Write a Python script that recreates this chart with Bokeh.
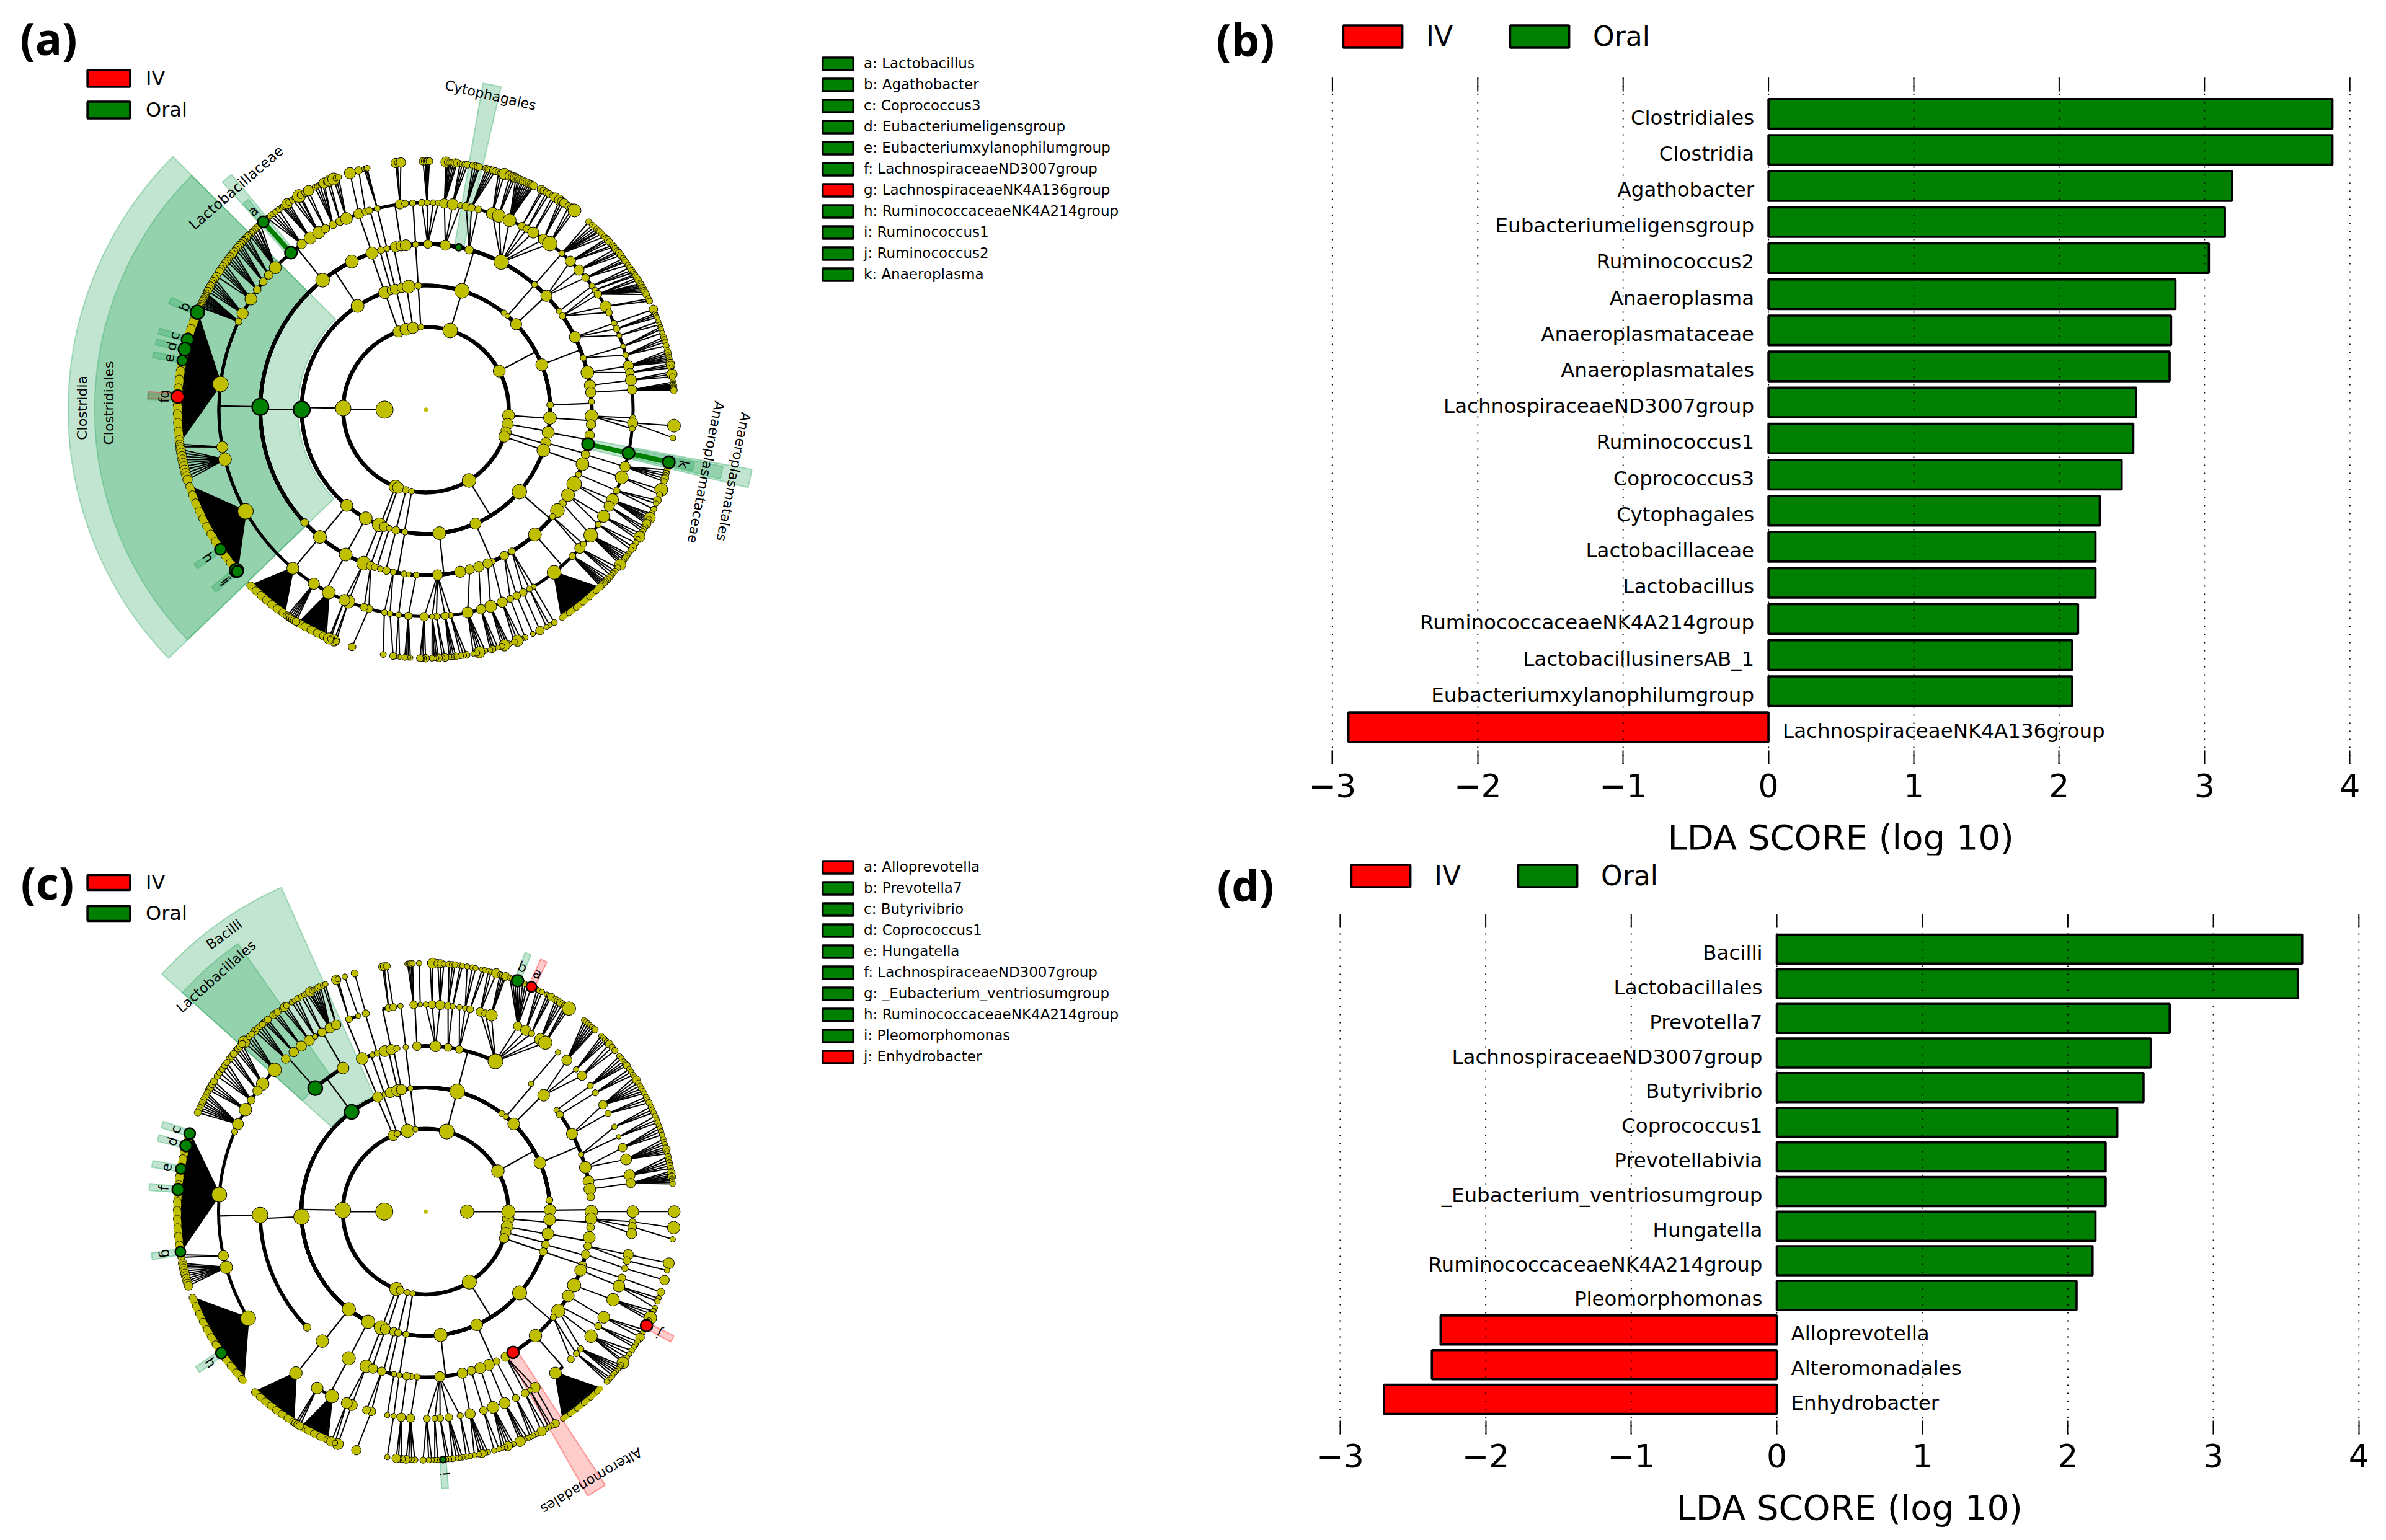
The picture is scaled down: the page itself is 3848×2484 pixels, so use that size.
import math
from bokeh.plotting import figure
from bokeh.layouts import column, row
from bokeh.embed import file_html
from bokeh.resources import INLINE
from bokeh.models import Range1d, FixedTicker, Legend, LegendItem, ColumnDataSource, Label, Title
from bokeh.core.properties import value

# ---------- bar panels ----------
B_LABELS = ["Clostridiales","Clostridia","Agathobacter","Eubacteriumeligensgroup","Ruminococcus2","Anaeroplasma",
 "Anaeroplasmataceae","Anaeroplasmatales","LachnospiraceaeND3007group","Ruminococcus1","Coprococcus3","Cytophagales",
 "Lactobacillaceae","Lactobacillus","RuminococcaceaeNK4A214group","LactobacillusinersAB_1","Eubacteriumxylanophilumgroup",
 "LachnospiraceaeNK4A136group"]
B_VALUES = [3.88,3.88,3.19,3.14,3.03,2.80,2.77,2.76,2.53,2.51,2.43,2.28,2.25,2.25,2.13,2.09,2.09,-2.89]
D_LABELS = ["Bacilli","Lactobacillales","Prevotella7","LachnospiraceaeND3007group","Butyrivibrio","Coprococcus1",
 "Prevotellabivia","_Eubacterium_ventriosumgroup","Hungatella","RuminococcaceaeNK4A214group","Pleomorphomonas",
 "Alloprevotella","Alteromonadales","Enhydrobacter"]
D_VALUES = [3.61,3.58,2.70,2.57,2.52,2.34,2.26,2.26,2.19,2.17,2.06,-2.31,-2.37,-2.70]
LDA_TICKS = [-3,-2,-1,0,1,2,3,4]
GROUPS = ["IV","Oral"]
GROUP_COLORS = {"IV":"#FF0000","Oral":"#008000"}

# ---------- side legends of the cladograms ----------
A_KEYS = [("a: Lactobacillus","Oral"),("b: Agathobacter","Oral"),("c: Coprococcus3","Oral"),("d: Eubacteriumeligensgroup","Oral"),
 ("e: Eubacteriumxylanophilumgroup","Oral"),("f: LachnospiraceaeND3007group","Oral"),("g: LachnospiraceaeNK4A136group","IV"),
 ("h: RuminococcaceaeNK4A214group","Oral"),("i: Ruminococcus1","Oral"),("j: Ruminococcus2","Oral"),("k: Anaeroplasma","Oral")]
C_KEYS = [("a: Alloprevotella","IV"),("b: Prevotella7","Oral"),("c: Butyrivibrio","Oral"),("d: Coprococcus1","Oral"),("e: Hungatella","Oral"),
 ("f: LachnospiraceaeND3007group","Oral"),("g: _Eubacterium_ventriosumgroup","Oral"),("h: RuminococcaceaeNK4A214group","Oral"),
 ("i: Pleomorphomonas","Oral"),("j: Enhydrobacter","IV")]

# ---------- cladogram (a): (parent level, parent angle, child angles, child sizes) ----------
A_FAN_1 = [157,157.5,158,158.5,159,159.5,160,160.5,161,161.5,162,162.5,163,163.5,164,164.5,165,165.5,166,166.5,167,167.5,168,168.5,169,169.5,170,170.5,171,171.5,172,172.5,173,173.5,174,174.5,175,175.5,176,176.5,177,177.5,178,178.5,179,179.5,180,180.5,181,181.5,182,182.5,183,183.5,184,184.5,185,185.5,186,186.5,187,187.5]
A_FAN_2 = [198,198.5,199,199.5,200,200.5,201,201.5,202,202.5,203,203.5,204,204.5,205,205.5,206,206.5,207,207.5,208,208.5,209,209.5,210,210.5,211,211.5,212,212.5,213,213.5,214,214.5,215,215.5,216,216.5,217,217.5,218,218.5,219,219.5,220,220.5]
A_FAN_3 = [225.1,225.5,226,226.4,226.8,227.2,227.6,228,228.4,228.8,229.2,229.6,230,230.4,230.8,231.2,231.6,232,232.4,232.8,233.2,233.6,234,234.4,234.8,235.2]
A_FAN_4 = [239.2,239.6,240,240.4,240.8,241.2,241.6,242,242.4,242.8,243.2,243.6,244,244.4,244.8,245.2,245.6,246.2]
A_FAN_5 = [-56.8,-56.3,-55.8,-55.3,-54.8,-54.3,-53.8,-53.3,-52.8,-52.3,-51.8,-51.3,-50.8,-50.3,-49.8,-49.3,-48.8,-48.3,-47.8,-47.3,-46.8,-46.3,-45.8]
A_BRANCHES = [
 (0,180,[180],40),
 (1,180,[179,109.3,106,104,99,93.6,73,27.8,-2,-4,-10,-16,-19,-58.7,-111.6,-109.6,-104,-100],[36,26,14,28,26,14,34,28,14,28,26,26,26,32,30,26,16,14]),
 (2,179,[123.4,180,230.4,241],[30,36,28,30]),
 (2,109.3,[109.4,106.2],[28,20]),(2,104,[104.2,101.2],[24,22]),(2,99,[98],30),(2,93.6,[93.6],16),
 (2,73,[73.2],34),(2,27.8,[51.1,49,43.5,21.2,2.2],[14,12,26,28,16]),
 (2,-4,[-3.8],30),(2,-10,[-10.5],28),(2,-16,[-15.4],24),(2,-19,[-19.1],30),
 (2,-58.7,[-41.3,-66.5,-83.8],[34,26,30]),
 (2,-111.6,[-112.1,-109.6],[32,22]),(2,-109.6,[-107.2],14),(2,-104,[-104],18),(2,-100,[-99.8],14),
 (3,123.4,[128.6,116.6],[32,30]),(3,180,[179,222.9],[38,18]),(3,230.4,[230.2],30),(3,241,[241],30),
 (3,109.4,[109,105.7],[28,16]),(3,106.2,[103.6],14),(3,104.2,[100.6],24),(3,101.2,[98.6,97],[24,26]),(3,93.6,[93.6],14),
 (3,73.2,[89.4,83.3,78.6,74.9,63],[20,24,16,20,34]),
 (3,49,[49],14),(3,43.5,[43.4],26),(3,21.2,[36.5,34.5,26,18.2,13,8.4,6],[14,16,26,14,30,26,24]),(3,2.2,[2.7],14),
 (3,-3.8,[-2.2,-5.1],[30,22]),(3,-10.5,[-8.9,-12],[22,26]),(3,-15.4,[-15.7,-19.2],[20,30]),(3,-19.1,[-23,-26.6,-31,-34.5],[14,34,30,18]),
 (3,-41.3,[-37.5,-40.2,-48.9],[32,14,30]),(3,-66.5,[-66.4,-61.8,-58.8],[14,20,16]),
 (3,-83.8,[-93.4,-86,-78.1,-74.7,-71.4,-68.2],[14,24,26,22,24,22]),
 (3,-112.1,[-112.1,-109.5],[32,20]),(3,-109.6,[-108,-106],[16,14]),(3,-107.2,[-103.8],18),(3,-104,[-101.4],14),(3,-99.8,[-97.6,-96],[14,12]),
 (4,128.6,[130.7,126.9,124,121.2,119.1,116.7,114.5,112.6],[28,22,28,28,20,18,20,28]),
 (4,179,[136.7,139.4,141.8,144.6,147.7,152.3,154.8,172.9,190.4,193.9,209.4],[28,20,18,18,28,26,16,36,26,30,36]),
 (4,230.2,[230],28),(4,241,[237.2,242],[26,30]),
 (4,109,[108.9,107],[24,16]),(4,105.7,[105.9],16),(4,103.6,[103.6],14),(4,98.6,[97.2,95.8],[22,16]),(4,93.6,[93.7],14),
 (4,89.4,[91.2,89.7,88,86.6],[16,14,14,14]),(4,83.3,[84.9,82.6,80.4],[22,26,14]),(4,74.9,[78.8,77.3,75.4],[20,18,16]),
 (4,63,[71.3,69.4,66.2,62.4,60.8,58.8,55.4,53.3],[28,30,30,18,18,26,24,34]),
 (4,49,[49],14),(4,43.4,[45.8,42.4,39.6],[24,24,18]),
 (4,36.5,[36.7],14),(4,34.5,[35.3,33.9,29.9,28],[14,18,26,16]),(4,26,[24.7,23,21],[14,16,12]),(4,18.2,[17.8,15.3],[12,14]),(4,13,[12.2,10.3],[24,20]),(4,8.4,[8.2],26),(4,6,[5.5],22),
 (4,-2.2,[-2.3,-3.7,-5.3],[14,24,14]),(4,-12,[-12.1],26),(4,-15.7,[-16],24),(4,-19.2,[-19.1],30),(4,-23,[-23],16),(4,-26.6,[-25.8,-27.8],[28,24]),(4,-31,[-31,-33.7],[28,14]),(4,-34.5,[-37.3],32),
 (4,-40.2,[-42,-40.5],[24,14]),(4,-48.9,[-51.8,-45],[32,16]),
 (4,-58.8,[-58.7,-60,-62],[12,14,18]),(4,-61.8,[-64,-66],[18,16]),(4,-66.4,[-68.4],24),(4,-68.2,[-71.8],28),(4,-71.4,[-74.6],22),(4,-74.7,[-78.4],26),
 (4,-86,[-83.2,-84.7,-87.1,-88.3,-90.5],[14,18,16,12,20]),(4,-93.4,[-94.9],18),(4,-97.6,[-97.6],14),(4,-101.4,[-100,-101.6],[14,14]),
 (4,-112.1,[-112,-113.2],[30,26]),(4,-109.5,[-106,-107.4],[18,18]),
 (5,130.7,[130.9],26),(5,126.9,[129.6,128.7,128,127.2,126.3],14),(5,124,[125.4,125,124.5,124,123.5],[14,14,14,24,14]),(5,121.2,[122.4,121.6,120.7,120.3],[16,18,30,16]),
 (5,119.1,[119,118.2],[18,24]),(5,116.7,[116.5,115.9,115.3,114.6,114.2],[14,14,14,20,24]),(5,114.5,[113.4,112.8],[18,26]),(5,112.6,[111.8,111.2,110.6],[28,14,14]),
 (5,136.7,[131.8,132.5,132.9,133.6,134.2,134.7,135.3],16),(5,139.4,[135.8,136.3,137,137.4],18),(5,141.8,[138,138.6,139.2,139.9],18),(5,144.6,[140.5,141.2,142,142.7,143.3],18),
 (5,147.7,[144,144.8,145.5,146.2,147.5],18),(5,152.3,[148.2,148.9,149.5,150.1,150.8,151.5],18),(5,154.8,[152,152.3,152.6,153,153.4,153.7,154,154.4,154.8,155.2,155.6],16),
 (5,172.9,A_FAN_1,20),(5,190.4,[188,188.6],20),(5,193.9,[189.2,190,190.8,191.6,192.4,193.2,194,194.8,195.6,196.4],22),(5,209.4,A_FAN_2,18),
 (5,230,A_FAN_3,18),(5,242,A_FAN_4,18),(5,237.2,[236,236.5,237,237.5,238,238.5],18),
 (5,108.9,[107.8],26),(5,107,[105.7],18),(5,103.6,[104.4,104,103.7],[12,12,14]),(5,97.2,[97,96.6,95.8],[22,14,22]),(5,89.7,[90.7,90.2,89.9,89.6,89.2],[18,18,16,16,16]),
 (5,84.9,[85.4,85,84.6,84.2,83.7,83.2,82.8],[24,16,14,14,16,20,18]),(5,82.6,[82.1,81.6,81,80.4],[14,14,14,16]),(5,78.8,[79.1,78.5,78,77.6],16),(5,77.3,[76,75.5,75,74.4,73.8],16),
 (5,71.3,[73,72.4,71.6],[16,16,26]),(5,69.4,[70.3,69.6,69],[22,20,22]),(5,66.2,[68.8,68.3,67.9,67.4,67,66.5,66,65.5,65,64.6,64.3],18),(5,62.4,[62.3,61.8],[20,16]),
 (5,60.8,[61,60.3],16),(5,58.8,[59.3,58.6],[16,22]),(5,55.4,[57.5,56.9,56.3],[24,20,20]),(5,53.3,[54.9,54,53.3],[18,22,30]),
 (5,49,[49.1,48,47.3,46.6,46,45.7,45,44.1],14),(5,45.8,[43.5,43,42.4,41.4,40.9],16),(5,42.4,[40.4,39.6,39.1,38.4],16),(5,39.6,[37.5,36.9,36.5,35.6],14),
 (5,36.7,[34.9,34.1,33.5],14),(5,35.3,[33,32.6],14),(5,33.9,[32,31.4,30.5,30.2,29.8,29.4,29,28.6,28.2,27.6],16),(5,29.9,[26.5,25.9],14),(5,24.7,[23.8],20),(5,23,[22.8,22.3,21.8],12),
 (5,21,[20.8,20],12),(5,17.8,[19.4,18.9,18],12),(5,15.3,[17,16.4,15.8,14.9],14),(5,12.2,[13.8,13.2,12.7,12.2,11.8,11.4,11],[14,16,14,14,14,14,14]),(5,10.3,[10.7,10.2,9.7],[20,20,14]),
 (5,8.2,[8.8,8.2,7.6],[14,24,14]),(5,5.5,[6.4,6,5.8,5.6,5.4,5.2,5,4.8,4.6,4.4],[14,14,14,16,14,14,14,14,16,16]),
 (5,-3.7,[-3.7,-6.5],[30,14]),(5,-12.1,[-12.2],26),(5,-16,[-14,-14.8,-15.4,-16.1,-16.8],[14,14,14,18,14]),(5,-19.1,[-18.8,-20],[30,14]),(5,-23,[-21.4,-22.2,-23.6],[18,12,14]),
 (5,-25.8,[-24.8,-25.2,-25.8,-26.2,-26.6,-27,-27.4],[14,14,26,14,14,14,20]),(5,-27.8,[-28.2,-28.8,-29.4],14),(5,-31,[-30,-30.8,-31.5],[14,26,14]),(5,-33.7,[-32.4,-33.6,-34.4],[14,18,14]),
 (5,-37.3,[-35.5,-36.1,-36.7,-37.2,-37.7,-38.1,-38.6],[14,14,14,14,14,14,26]),(5,-42,[-39.5,-40.5,-41.2,-41.9],14),(5,-45,[-42.5,-43.2,-43.8,-44.2,-44.6,-45,-45.4],16),(5,-51.8,A_FAN_5,14),
 (5,-58.7,[-58.9],14),(5,-60,[-60.2,-61],12),(5,-62,[-62.7],20),(5,-64,[-64.5],12),(5,-66,[-66.5],14),(5,-68.4,[-67.5,-68.4,-69.2],[14,26,14]),(5,-71.8,[-70.5,-71,-71.6,-72.2],[14,14,26,14]),
 (5,-74.6,[-73.2,-74,-74.5,-75],[12,12,16,12]),(5,-78.4,[-76.2,-77,-77.6,-78.2,-79],[12,12,26,14,12]),(5,-83.2,[-80.6,-81.3,-82],[16,14,14]),(5,-84.7,[-83.1,-83.6,-84.1,-84.6],[16,12,12,12]),
 (5,-87.1,[-85.6,-86.2],[18,12]),(5,-88.3,[-87.1,-87.6,-88.1,-88.6],[18,12,12,14]),(5,-90.5,[-90.1,-90.6,-91,-91.4],[18,14,14,16]),(5,-94.9,[-93.6,-94.1,-94.5,-94.9],[12,12,12,14]),
 (5,-97.6,[-96.1,-97],12),(5,-100,[-97.6],16),(5,-101.6,[-99.9],14),(5,-112,[-111.7,-111.2],[26,14]),(5,-113.2,[-113,-112.6],[26,14]),(5,-106,[-107.3],18),
]
A_WEDGES = [(3.09,8.64,135,224,"Oral"),(4.0,8.0,135,224,"Oral"),(5.05,7.37,129.6,131.8,"Oral"),(6.0,6.65,130.2,131.6,"Oral"),
 (4.0,8.0,76.9,80.1,"Oral"),(4.0,8.0,-13.6,-10.4,"Oral"),(5.0,7.3,-13.2,-10.8,"Oral"),(6.0,6.6,-12.9,-11.1,"Oral"),
 (6.0,6.72,156.2,157.6,"Oral"),(6.0,6.72,163,164.2,"Oral"),(6.0,6.72,165.3,166.5,"Oral"),(6.0,6.72,168,169.2,"Oral"),(6.0,6.72,176.3,177.7,"IV"),(6.0,6.72,176.6,178,"Oral"),
 (6.0,6.72,213.6,214.8,"Oral"),(6.0,6.72,219.6,221,"Oral")]
A_THICK = [(5,130.7,6,130.9),(4,-12,5,-12.1),(5,-12.1,6,-12.2)]
A_MARKED = [(6,130.9,"Oral",26),(6,156.9,"Oral",32),(6,163.6,"Oral",28),(6,165.9,"Oral",30),(6,168.6,"Oral",24),(6,177,"IV",30),
 (6,214.2,"Oral",26),(6,220.3,"Oral",32),(6,220.6,"Oral",26),(6,-12.2,"Oral",28),(5,-12.1,"Oral",28),(4,-12,"Oral",28),
 (5,130.7,"Oral",28),(4,78.6,"Oral",16),(4,179,"Oral",38),(3,180,"Oral",38)]
A_TEXTS = [("Clostridia",8.3,179.7,90,22),("Clostridiales",7.66,178.8,90,22),("Lactobacillaceae",7.05,130.5,41,23),("Cytophagales",7.75,78.4,-13,22),
 ("Anaeroplasmatales",7.6,-12.3,-101,22),("Anaeroplasmataceae",6.92,-12.6,-101,22),
 ("a",6.36,131,41,22),("b",6.33,156.9,67,22),("c",6.33,163.6,74,22),("d",6.33,166,76,22),("e",6.33,168.6,79,22),("f",6.33,178,88,22),("g",6.33,176.6,87,22),
 ("h",6.36,214.2,-56,22),("i",6.36,220.3,-50,22),("j",6.36,220.7,-50,22),("k",6.36,-12,-102,22)]

# ---------- cladogram (c) ----------
C_FAN_1 = [161.7,162.2,162.7,163.2,163.7,164.2,164.7,165.2,165.7,166.2,166.7,167.2,167.7,168.2,168.7,169.2,169.7,170.2,170.7,171.2,171.7,172.2,172.7,173.2,173.7,174.2,174.7,175.2,175.7,176.2,176.7,177.2,177.7,178.2,178.7,179.2,179.7,180.2,180.7,181.2,181.7,182.2,182.7,183.2,183.7,184.2,184.7,185.2,185.7,186.2,186.7,187.2,187.7,188.2,188.7,189.3]
C_FAN_2 = [200.3,200.8,201.3,201.8,202.3,202.8,203.3,203.8,204.3,204.8,205.3,205.8,206.3,206.8,207.3,207.8,208.3,208.8,209.3,209.8,210.3,210.8,211.3,211.8,212.3,212.8,213.3,213.8,214.3,214.8,215.3,215.8,216.3,216.8,217.3,217.8,218.3,218.8,219.3,219.8,220.3,220.8,221.3,221.8,222.3,222.8]
C_FAN_3 = [226.6,227,227.4,227.8,228.2,228.6,229,229.4,229.8,230.2,230.6,231,231.4,231.8,232.2,232.6,233,233.4,233.8,234.2,234.6,235,235.4,235.8,236.2,236.6,237,237.4,237.8]
C_FAN_4 = [240.1,240.5,240.9,241.3,241.7,242.1,242.5,242.9,243.3,243.7,244.1,244.5,244.9,245.3,245.7,246.1,246.7]
C_FAN_5 = [-56.4,-55.9,-55.4,-54.9,-54.4,-53.9,-53.4,-52.9,-52.4,-51.9,-51.4,-50.9,-50.4,-49.9,-49.4,-48.9,-48.4,-47.9,-47.4,-46.9,-46.4,-45.9,-45.4]
C_BRANCHES = [
 (0,180,[180],44),(0,0,[0],34),
 (1,180,[179,113.1,110,102.6,97,75.3,29.3,-5,-10.5,-14.6,-18.8,-58.2,-110.7,-108,-102.9,-99],[40,26,16,34,14,38,32,30,30,26,24,36,34,20,16,14]),(1,0,[0],34),
 (2,179,[126.6,182.4,231.8,242.4],[36,40,34,34]),
 (2,113.1,[112.7,109.3],[26,14]),(2,110,[106.6],26),(2,102.6,[103,101.2],[30,26]),(2,97,[97],14),(2,75.3,[75.3],38),
 (2,29.3,[52.2,49.8,44.9,23.1,5.3],[16,14,30,30,18]),(2,0,[0.7],30),(2,-5,[-3.7],30),(2,-10.5,[-10.3],30),(2,-14.6,[-15.4],20),(2,-18.8,[-18.8],20),
 (2,-58.2,[-40.9,-65.7,-83.1],[36,30,34]),(2,-110.7,[-110.9,-108.9],[36,26]),(2,-108,[-104.8],22),(2,-102.9,[-102.8],18),(2,-99,[-99.1],16),
 (3,126.6,[131.8,119.9],[36,30]),(3,182.4,[181.2,224.3],[40,20]),(3,231.8,[231.4],32),(3,242.4,[242.3],34),
 (3,112.7,[112.5,108.7],[30,14]),(3,109.3,[107],16),(3,106.6,[104.3],28),(3,103,[102],26),(3,101.2,[100],16),(3,97,[96.9],14),
 (3,75.3,[93,86.6,82.2,78.3,65.1],[22,28,20,20,38]),(3,49.8,[50.5],14),(3,44.9,[44.6],30),
 (3,23.1,[37.8,35.9,28,20.2,15.5,10.6,7.8,5.1],[14,18,28,14,30,28,30,20]),
 (3,.7,[0,-2.5,-5.5],[32,30,20]),(3,-3.7,[-9,-12],[30,20]),(3,-10.3,[-15,-18.9],[22,20]),(3,-15.4,[-20.7,-26.4],[30,34]),(3,-18.8,[-30.6,-35.1],[30,14]),
 (3,-40.9,[-36.8,-39.6,-48.5,-58.2,-61.1],[34,16,32,30,24]),(3,-65.7,[-64.7,-67.6,-70.8,-74],[18,28,28,22]),(3,-83.1,[-77.2,-85.1,-93,-95],[26,26,16,16]),
 (3,-110.9,[-111,-108.6],[32,24]),(3,-108.9,[-105.4],22),(3,-104.8,[-101],14),(3,-102.8,[-99.2],14),(3,-99.1,[-96.6],20),
 (4,131.8,[132.5],22),(4,119.9,[129.6,126.9,124.2,122.3,120,117.5,115.6],[24,26,26,14,22,26,24]),
 (4,181.2,[136.8,141.9,144.3,147.4,150.5,155,157.3,175.3,192.3,195.6,211],[34,32,24,20,32,28,16,38,26,32,38]),
 (4,231.4,[231.2],32),(4,242.3,[238.4,243.1],[30,34]),
 (4,112.5,[111.7,109],[18,14]),(4,107,[106.8],18),(4,102,[100.3,99],18),(4,96.9,[97],14),(4,93,[93.3,91.5],[20,12]),(4,86.6,[90,88.2,86],[14,20,24]),(4,82.2,[83.8,82.5],[18,14]),(4,78.3,[80.6,79,77.6],[14,14,18]),
 (4,65.1,[74.7,73.3,71.5,63.6,61.1,59.3,56.3,54.7],[22,18,30,22,26,16,30,34]),(4,50.5,[50.3],14),(4,44.6,[47,43.4,41],[26,14,24]),
 (4,37.8,[37.4],16),(4,35.9,[35],16),(4,28,[31.1,28.3],[22,16]),(4,20.2,[24.2,21.2],[14,12]),(4,15.5,[18,14.6],[22,28]),(4,10.6,[10.1],28),(4,7.8,[7.9],24),
 (4,0,[0],30),(4,-2.5,[-2.8,-4.2,-6.1],[16,22,26]),(4,-12,[-12,-13.7],[26,20]),(4,-15,[-15.9],16),(4,-18.9,[-18.7],20),(4,-20.7,[-21.1],30),(4,-26.4,[-25.2],32),(4,-30.6,[-30.7],30),
 (4,-35.1,[-33.6],18),(4,-36.8,[-37,-41.5],[32,16]),(4,-39.6,[-43.3,-45.5],[16,18]),(4,-48.5,[-51.2],30),
 (4,-61.1,[-58.1,-59.7,-61.3],[26,14,20]),(4,-64.7,[-64.2],18),(4,-67.6,[-67.6],28),(4,-70.8,[-71],30),(4,-74,[-73.8],20),(4,-77.2,[-77.6],26),(4,-85.1,[-80.4,-83.6,-86,-87.5,-89.7],[16,20,18,15,18]),
 (4,-93,[-94.2],22),(4,-96.6,[-96.8],22),(4,-99.2,[-98.9],14),(4,-101,[-100.7],14),(4,-105.4,[-105.2,-106.6],[22,20]),(4,-111,[-110.9,-112.4],[28,28]),
 (5,129.6,[130.5,130,129.4],18),(5,126.9,[127.8,127.2,126.6],18),(5,124.2,[125.2,124.6,124],[16,22,16]),(5,122.3,[122.6,121.8,121],[14,14,16]),(5,120,[120,119.2],14),(5,117.5,[118.6,118,117.7,117.2,116.6,116.1,115.6,115],[14,14,24,14,14,14,18,18]),
 (5,115.6,[114.4,113.8],14),(5,132.5,[133.4,132.6,131.8,131.1],[20,16,16,16]),
 (5,136.8,[136.9,136,135.2,134.4],[30,16,16,16]),(5,141.9,[139.7,139,138.3,137.6],18),(5,144.3,[142.1,141.3,140.6],18),(5,147.4,[147,146,145,144,143.1],16),(5,150.5,[150.7,150,149.2,148.4],18),
 (5,155,[151.4,152,152.6,153.4,154,154.6,155.2,155.8,156.5],[16,16,16,18,16,16,16,16,18]),
 (5,175.3,C_FAN_1,20),(5,192.3,[190,190.6],18),(5,195.6,[192,192.6,193.2,193.8,194.4,195,195.6,196.2,196.8,197.4],22),(5,211,C_FAN_2,18),
 (5,231.2,C_FAN_3,18),(5,243.1,C_FAN_4,18),(5,238.4,[238.4,239,239.6],20),
 (5,111.7,[111.1,110.7],[24,14]),(5,109,[109],14),(5,106.8,[106.6],18),(5,100.3,[100,99.6],20),(5,99,[99],18),(5,93.3,[94.2,93.8,93.4,93],[14,14,16,14]),(5,91.5,[91.5],14),
 (5,88.2,[89,88.4],[16,26]),(5,86,[87.2,86.5,85.8],[20,20,14]),(5,83.8,[84.6,83.8,83.2],16),(5,82.5,[82,81.5],14),(5,79,[80.4,79.2,78.4],14),(5,77.6,[76.9,76.2],14),
 (5,74.7,[75.4,74.7,73.5],[14,14,24]),(5,71.5,[72.6,72.1,71.6,71.2],[14,14,14,20]),(5,63.6,[70.2,69.6,69,68.3,67.7,67,66.4,65.8,64.8],[14,14,14,18,14,14,14,14,20]),(5,61.1,[63.4,62.8,62.1],14),(5,59.3,[60.8,60.2,59.7],[14,14,20]),(5,56.3,[58.5,57.9,57.3,56.6],18),(5,54.7,[56,55.4,54.8],[16,16,34]),
 (5,47,[50.4,49.8,49.2,48.6,48,47.4,47],[14,14,14,14,14,14,16]),(5,43.4,[45,44.4,43.8,43.2],14),(5,41,[42.4,41.4,40.4],[20,16,16]),(5,37.4,[38.8,38,37.2,36.6,36],[14,14,14,14,18]),(5,35,[35,34.2,33.4],14),
 (5,31.1,[32.8,32,31.2,30.4,29.7,29,28.4],[14,20,14,14,14,14,14]),(5,28.3,[27.5,26.8,26],[14,14,16]),(5,24.2,[25,24.2,23.5],14),(5,21.2,[22.6,21.7,21],14),(5,18,[20.2,19.5,18.8,18],14),(5,14.6,[17,16.3,15.7,15,14.5,14,13.5],[14,14,14,14,20,14,14]),
 (5,10.1,[12.8,12,11.3,10.6,10],16),(5,7.9,[9.4,8.9,8.4,8,7.6,7.2,6.8,6.4],[14,20,14,20,14,14,14,14]),
 (5,0,[0],30),(5,-2.8,[-3.7],32),(5,-4.2,[-6.4],14),(5,-12,[-12],28),(5,-13.7,[-13.7],14),(5,-15.9,[-16],24),(5,-18.7,[-18.9],20),(5,-21.1,[-20.4,-21.2,-22.8],14),(5,-25.2,[-23.6,-24.4,-25.3,-26],[14,14,32,14]),
 (5,-30.7,[-28.4,-29.2,-30.4],[14,14,22]),(5,-33.6,[-31.5,-32.4,-33.1],14),(5,-37,[-34,-35,-36,-37,-37.5],[14,14,14,14,30]),(5,-41.5,[-38.2,-38.8,-39.4,-40,-40.6,-41.3],14),(5,-43.3,[-42,-42.6,-43.2],14),(5,-51.2,C_FAN_5,14),
 (5,-58.1,[-58.5],20),(5,-59.7,[-59.6,-60.3],14),(5,-61.3,[-61.1,-62.2],[14,24]),(5,-64.2,[-63.6,-64.4,-65.1],14),(5,-67.6,[-65.8,-66.6,-67.1,-67.7],[14,14,14,26]),(5,-71,[-69.3,-70,-70.7,-71.4,-72.1],[14,14,24,14,14]),(5,-73.8,[-72.8,-74],14),
 (5,-77.6,[-75.5,-76.2,-76.9,-77.6,-78.7],[14,14,20,14,14]),(5,-80.4,[-79.7,-80.6],14),(5,-83.6,[-81.5,-82.2,-82.9,-83.8],[14,14,14,16]),(5,-86,[-84.6,-85.3],14),(5,-87.5,[-87.2,-87.9],14),(5,-89.7,[-88.6,-89.3,-90.6],[14,14,16]),
 (5,-94.2,[-92.5,-93.2,-93.9,-94.5],[16,14,14,20]),(5,-96.8,[-95.5,-96.3,-96.8],[18,18,22]),(5,-98.9,[-98.9],14),(5,-105.2,[-106.2],24),(5,-110.9,[-110.7],28),(5,-112.4,[-112.3,-111.4],[24,14]),
]
C_WEDGES = [(3.06,8.57,114,138,"Oral"),(4.0,7.9,125,138,"Oral"),(4.0,7.9,-60.3,-56.7,"IV"),
 (6.0,6.7,67.7,69,"Oral"),(6.0,6.7,64.1,65.5,"IV"),(6.0,6.7,161,162.4,"Oral"),(6.0,6.7,163.9,165.3,"Oral"),(6.0,6.7,169.4,170.8,"Oral"),(6.0,6.7,174.2,175.6,"Oral"),(6.0,6.7,188.6,190,"Oral"),
 (6.0,6.7,214,215.4,"Oral"),(6.0,6.7,-86.7,-85.3,"Oral"),(6.0,6.7,-28,-26.6,"IV")]
C_THICK = []
C_MARKED = [(6,68.3,"Oral",30),(6,64.8,"IV",26),(6,161.7,"Oral",28),(6,164.6,"Oral",30),(6,170.1,"Oral",26),(6,174.9,"Oral",30),(6,189.3,"Oral",26),(6,214.7,"Oral",28),
 (6,-86,"Oral",16),(6,-27.3,"IV",30),(3,126.6,"Oral",36),(4,131.8,"Oral",36),(4,-58.2,"IV",30)]
C_TEXTS = [("Bacilli",8.27,126,36,22),("Lactobacillales",7.6,131.7,41.7,22),("Alteromonadales",7.63,-58.4,211,22),
 ("a",6.35,64.8,-25,22),("b",6.35,68.4,-22,22),("c",6.35,161.8,72,22),("d",6.35,164.5,75,22),("e",6.35,170.3,80,22),("f",6.35,174.9,85,22),("g",6.35,189.1,-81,22),("h",6.35,215.1,-55,22),("i",6.35,-85.7,95,22),("j",6.35,-27.5,152,22)]

YELLOW = "#BFBF00"
LEVEL_PX = 66.8
LEFT_W, RIGHT_W = 1900, 1940
LEFT_TOP_H, LEFT_BOT_H = 1360, 1116
RIGHT_TOP_H, RIGHT_TOP_OVERLAP, RIGHT_BOT_H = 1388, 9, 1097
GREEN_SOFT = "#1FA355"

def pol(level, ang):
    t = math.radians(ang)
    return level*math.cos(t), level*math.sin(t)

def keys_legend(p, pairs, x, y, gw, gh, standoff, spacing, font, lw, orientation="vertical"):
    items = []
    for label, grp in pairs:
        r = p.vbar(x=[float("nan")], top=[float("nan")], width=1, fill_color=GROUP_COLORS[grp], line_color="black", line_width=lw)
        items.append(LegendItem(label=label, renderers=[r]))
    lg = Legend(items=items, location=(x, y), orientation=orientation, glyph_width=gw, glyph_height=gh, label_standoff=standoff,
                spacing=spacing, padding=0, margin=0, border_line_color=None, background_fill_alpha=0,
                label_text_font="DejaVu Sans", label_text_font_size=font, label_height=10, label_width=10, label_text_color="black")
    p.add_layout(lg)

def clado(name, width, height, cx, cy, branches, wedges, thick, marked, texts, keys, keys_xy, leg_xy, leg_spacing, swatch_h, tag_xy, size_k):
    p = figure(width=width, height=height, output_backend="svg", toolbar_location=None,
               x_axis_location=None, y_axis_location=None, min_border=0,
               x_range=Range1d(-cx/LEVEL_PX, (width-cx)/LEVEL_PX), y_range=Range1d(-(height-cy)/LEVEL_PX, cy/LEVEL_PX))
    p.frame_align = False
    p.outline_line_color = None
    p.grid.visible = False
    for r0, r1, a0, a1, g in wedges:
        c = GREEN_SOFT if g == "Oral" else "#FF0000"
        p.annular_wedge(x=[0], y=[0], inner_radius=r0, outer_radius=r1, start_angle=math.radians(a0), end_angle=math.radians(a1),
                        fill_color=c, fill_alpha=0.28 if g=="Oral" else 0.2, line_color=c, line_alpha=0.35, line_width=2)
    x0, y0, x1, y1, lws = [], [], [], [], []
    arcs = {3: [], 4: [], 5: []}
    for pl, pa, ch, sz in branches:
        if pl == 0:
            continue
        cl = pl + 1
        straight = cl == 6 or (cl == 5 and not (90 < pa < 270 or -49 < pa < -48))
        if straight:
            dense = cl == 6 and len(ch) >= 15
            for a in ch:
                xa, ya = pol(pl, pa); xb, yb = pol(cl, a)
                x0.append(xa); y0.append(ya); x1.append(xb); y1.append(yb); lws.append(3.4 if dense else 2)
        else:
            xa, ya = pol(pl, pa); xb, yb = pol(cl, pa)
            x0.append(xa); y0.append(ya); x1.append(xb); y1.append(yb); lws.append(2.2)
            if cl >= 3:
                arcs[cl].append((min(ch+[pa]), max(ch+[pa])))
    p.segment(x0=x0, y0=y0, x1=x1, y1=y1, line_color="black", line_width=lws)
    p.arc(x=[0], y=[0], radius=2, start_angle=0, end_angle=2*math.pi, line_color="black", line_width=6.5)
    for lv, spans in arcs.items():
        if spans:
            p.arc(x=[0]*len(spans), y=[0]*len(spans), radius=lv, start_angle=[math.radians(s[0]) for s in spans],
                  end_angle=[math.radians(s[1]) for s in spans], line_color="black", line_width=6 if lv < 5 else 5)
    for l0, a0, l1, a1 in thick:
        xa, ya = pol(l0, a0); xb, yb = pol(l1, a1)
        p.segment(x0=[xa], y0=[ya], x1=[xb], y1=[yb], line_color="#008000", line_width=8)
    xs, ys, ss, ol = [], [], [], []
    for pl, pa, ch, sz in branches:
        cl = pl + 1
        szs = sz if isinstance(sz, list) else [sz]*len(ch)
        for i, (a, s) in enumerate(zip(ch, szs)):
            if cl == 6 and len(ch) >= 15:
                w = 0.9 if i % 4 == 0 else 0
            elif cl == 6 and len(ch) >= 7:
                w = 0.8
            else:
                w = 1
            xn, yn = pol(cl, a)
            xs.append(xn); ys.append(yn); ss.append(s*size_k); ol.append(w)
    p.scatter(x=xs, y=ys, size=ss, fill_color=YELLOW, line_color="black", line_width=ol)
    p.scatter(x=[0], y=[0], size=7, fill_color=YELLOW, line_color=None)
    for lv, a, g, s in marked:
        xn, yn = pol(lv, a)
        p.scatter(x=[xn], y=[yn], size=s*size_k, fill_color=GROUP_COLORS[g], line_color="black", line_width=2.4)
    for t, lv, a, rot, fs in texts:
        xn, yn = pol(lv, a)
        p.text(x=[xn], y=[yn], text=[t], angle=math.radians(rot), text_align="center", text_baseline="middle",
               text_font=value("DejaVu Sans"), text_font_size=f"{fs}px", text_color="black")
    p.add_layout(Label(x=(tag_xy[0]-cx)/LEVEL_PX, y=(cy-tag_xy[1])/LEVEL_PX, text=name, text_align="center", text_baseline="middle",
           text_font="Open Sans", text_font_style="bold", text_font_size="72px", text_color="black", text_line_height=0.9))
    keys_legend(p, [("IV","IV"),("Oral","Oral")], leg_xy[0], leg_xy[1], 86, swatch_h, 17, leg_spacing, "32px", 3.5)
    keys_legend(p, keys, keys_xy[0], keys_xy[1], 62, 25, 11, 8, "23px", 3.5)
    return p

def bars(name, labels, values, width, height, zero_x, unit_x, base_i_px, step_px, grid_top_px, frame_bottom, top_ref, bar_h, tag_xy, tag_font, leg_xy, title_offset, spacer):
    xr = Range1d((1900-zero_x)/unit_x, (1900+width-zero_x)/unit_x)
    yr = Range1d((base_i_px-frame_bottom)/step_px, (base_i_px-top_ref)/step_px)
    p = figure(width=width, height=height, output_backend="svg", toolbar_location=None, y_axis_location=None,
               min_border_left=0, min_border_right=0, min_border_top=0, min_border_bottom=top_ref+height-frame_bottom,
               x_range=xr, y_range=yr)
    p.frame_align = False
    p.outline_line_color = None
    p.grid.visible = False
    n = len(labels)
    idx = [n-1-i for i in range(n)]
    for g in GROUPS:
        sel = [i for i, v in enumerate(values) if (v < 0) == (g == "IV")]
        src = ColumnDataSource(dict(y=[idx[i] for i in sel], right=[values[i] for i in sel]))
        p.hbar(y="y", left=0, right="right", height=bar_h, source=src, fill_color=GROUP_COLORS[g], line_color="black", line_width=3.6)
    grid_top = (base_i_px-grid_top_px)/step_px
    low = yr.start
    p.segment(x0=LDA_TICKS, y0=[low]*8, x1=LDA_TICKS, y1=[grid_top]*8, line_color="black", line_width=2, line_dash="2 11")
    p.segment(x0=LDA_TICKS, y0=[grid_top]*8, x1=LDA_TICKS, y1=[grid_top-22/step_px]*8, line_color="black", line_width=2)
    pos = [i for i, v in enumerate(values) if v >= 0]
    neg = [i for i, v in enumerate(values) if v < 0]
    p.text(x=[0]*len(pos), y=[idx[i] for i in pos], text=[labels[i] for i in pos], x_offset=-23, y_offset=6, text_align="right", text_baseline="middle",
           text_font=value("DejaVu Sans"), text_font_size="32.5px", text_color="black")
    p.text(x=[0]*len(neg), y=[idx[i] for i in neg], text=[labels[i] for i in neg], x_offset=23, y_offset=6, text_align="left", text_baseline="middle",
           text_font=value("DejaVu Sans"), text_font_size="32.5px", text_color="black")
    p.add_layout(Label(x=(tag_xy[0]-zero_x)/unit_x, y=(base_i_px-tag_xy[1])/step_px, text=name, text_align="center", text_baseline="middle",
           text_font="Open Sans", text_font_style="bold", text_font_size=tag_font, text_color="black", text_line_height=0.9))
    ax = p.xaxis[0]
    ax.ticker = FixedTicker(ticks=LDA_TICKS)
    ax.major_label_overrides = {t: str(t).replace("-", "\u2212") for t in LDA_TICKS}
    ax.axis_line_color = None
    ax.major_tick_in = 22
    ax.major_tick_out = 0
    ax.major_tick_line_width = 2
    ax.major_tick_line_color = "black"
    ax.minor_tick_line_color = None
    ax.major_label_text_font = "DejaVu Sans"
    ax.major_label_text_font_size = "52px"
    ax.major_label_text_color = "black"
    ax.major_label_standoff = 15
    p.add_layout(Title(text=" ", standoff=spacer, text_font_size="1px"), "below")
    p.add_layout(Title(text="LDA SCORE (log 10)", align="left", offset=title_offset, standoff=0, text_font="DejaVu Sans",
                       text_font_style="normal", text_font_size="56px", text_color="black", text_line_height=1.0), "below")
    keys_legend(p, [("IV","IV"),("Oral","Oral")], leg_xy[0], leg_xy[1], 119, 45, 27, 80, "44px", 3.6, orientation="horizontal")
    return p

pa = clado("(a)", LEFT_W, LEFT_TOP_H, 686.5, 660.3, A_BRANCHES, A_WEDGES, A_THICK, A_MARKED, A_TEXTS, A_KEYS, (1320, 905), (132, 1164), 13, 34, (78, 60), 0.7)
pc = clado("(c)", LEFT_W, LEFT_BOT_H, 686, 593.8, C_BRANCHES, C_WEDGES, C_THICK, C_MARKED, C_TEXTS, C_KEYS, (1320, 759), (132, 984), 12, 30, (76, 62), 0.64)
pb = bars("(b)", B_LABELS, B_VALUES, RIGHT_W, RIGHT_TOP_H, 2851.6, 234.4, 1172.5, 58.2, 125, 1232, 0, 0.82, (2008, 62), "72px", (254, 1148), 789, 24)
pd = bars("(d)", D_LABELS, D_VALUES, RIGHT_W, RIGHT_BOT_H, 2865, 234.7, 2256.5, 55.85, 1474, 2313, 1379, 0.84, (2008, 1426), "70px", (267, 875), 803, 24)
pb.margin = (0, 0, -RIGHT_TOP_OVERLAP, 0)

root = row(column(pa, pc, spacing=0), column(pb, pd, spacing=0), spacing=0)
open("out.html", "w").write(file_html(root, INLINE))
